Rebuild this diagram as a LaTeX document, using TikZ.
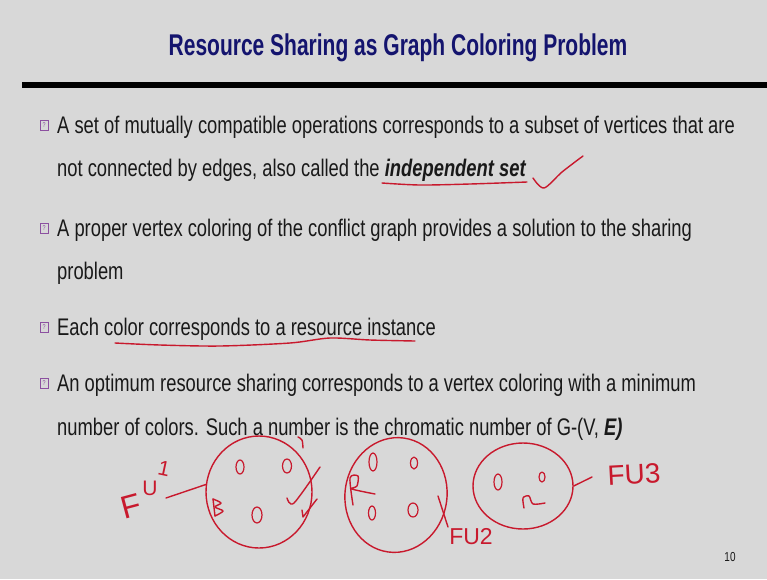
\documentclass[tikz,border=0pt]{standalone}
\usepackage{fontspec}
\setmainfont{Liberation Sans}[FakeStretch=0.765]
\newfontfamily\titlefont{Liberation Sans}[FakeStretch=0.70]
\newfontfamily\handfont{Liberation Sans}
\usetikzlibrary{shapes.geometric}
\definecolor{slidebg}{RGB}{216,216,216}
\definecolor{titleblue}{RGB}{20,20,110}
\definecolor{bodytext}{RGB}{25,25,25}
\definecolor{ink}{RGB}{200,25,45}
\definecolor{bulletpurple}{RGB}{140,80,160}

\begin{document}
\begin{tikzpicture}[x=1pt,y=-1pt,
  body/.style={anchor=base west, inner sep=0, font=\fontsize{24}{24}\selectfont, text=bodytext},
  bulletbox/.style={draw=bulletpurple, line width=0.7pt, minimum width=8pt, minimum height=10pt, inner sep=0, text=bulletpurple, font=\fontsize{7}{7}\selectfont},
  pen/.style={draw=ink, line width=1.4pt, line cap=round, line join=round},
  group/.style={pen, ellipse, inner sep=0},
  vertex/.style={pen, ellipse, inner sep=0, line width=1.2pt},
  hand/.style={text=ink, inner sep=0, font=\handfont\fontsize{20}{20}\selectfont}
]
% slide background
\fill[slidebg] (0,0) rectangle (767,579);
\useasboundingbox (0,0) rectangle (767,579);

% title and rule
\node[anchor=base, inner sep=0, text=titleblue, font=\titlefont\fontsize{30}{30}\selectfont\bfseries] (title) at (398,55) {Resource Sharing as Graph Coloring Problem};
\fill[black] (22,82) rectangle (767,88);

% bullets
\node[bulletbox] (b1) at (44,125) {?};
\node[bulletbox] (b2) at (44,228) {?};
\node[bulletbox] (b3) at (44,327) {?};
\node[bulletbox] (b4) at (44,383) {?};

\node[body] (l1) at (57,133) {A set of mutually compatible operations corresponds to a subset of vertices that are};
\node[body] (l2) at (57,176) {not connected by edges, also called the \textbf{\textit{independent set}}};
\node[body] (l3) at (57,236) {A proper vertex coloring of the conflict graph provides a solution to the sharing};
\node[body] (l4) at (57,279) {problem};
\node[body] (l5) at (57,335) {Each color corresponds to a resource instance};
\node[body] (l6) at (57,391) {An optimum resource sharing corresponds to a vertex coloring with a minimum};
\node[body] (l7) at (57,435) {number of colors. Such a number is the chromatic number of G-(V, \textbf{\textit{E)}}};

\node[anchor=base, inner sep=0, text=bodytext, font=\fontsize{13}{13}\selectfont] (page) at (730,561) {10};

% hand-written underlines and tick
\draw[pen] plot[smooth] coordinates {(382,183) (420,185) (470,184) (527,182)};
\draw[pen] plot[smooth] coordinates {(533,178) (544,188) (562,172) (583,156)};
\draw[pen] plot[smooth] coordinates {(115,343) (160,345) (220,346) (290,343) (330,338) (370,340) (415,341)};

% resource groups
\node[group, minimum width=106pt, minimum height=112pt] (c1) at (259,492) {};
\node[group, minimum width=102pt, minimum height=115pt, rotate=-8] (c2) at (396,495) {};
\node[group, minimum width=100pt, minimum height=86pt] (c3) at (523,486) {};

% operations inside group 1
\node[vertex, minimum width=8pt, minimum height=14pt] (v11) at (240,467) {};
\node[vertex, minimum width=9pt, minimum height=14pt] (v12) at (287,466) {};
\node[vertex, minimum width=10pt, minimum height=16pt] (v13) at (257,515) {};
\draw[pen] plot[smooth] coordinates {(213,499) (215,516)};
\draw[pen] plot[smooth] coordinates {(213,499) (221,503) (215,507) (223,511) (215,516)};
\draw[pen] plot[smooth] coordinates {(287,498) (294,503) (320,467)};
\draw[pen] (317,499) -- (303,517) -- (302,510);
\draw[pen] plot[smooth] coordinates {(298,437) (302,440) (303,448)};

% operations inside group 2
\node[vertex, minimum width=8pt, minimum height=18pt] (v21) at (373,462) {};
\node[vertex, minimum width=7pt, minimum height=12pt] (v22) at (414,463) {};
\node[vertex, minimum width=7pt, minimum height=14pt] (v23) at (372,513) {};
\node[vertex, minimum width=10pt, minimum height=14pt] (v24) at (413,510) {};
\draw[pen] plot[smooth] coordinates {(353,505) (350,478) (358,476) (357,486) (352,489) (375,494)};

% operations inside group 3
\node[vertex, minimum width=8pt, minimum height=16pt] (v31) at (498,482) {};
\node[vertex, minimum width=6pt, minimum height=10pt] (v32) at (542,477) {};
\draw[pen] plot[smooth] coordinates {(524,508) (523,498) (529,496) (533,504) (545,503)};

% functional unit labels (FU1 climbs diagonally, one letter at a time)
\node[hand, rotate=15, font=\handfont\fontsize{32}{32}\selectfont] (fu1a) at (131,506) {F};
\node[hand, font=\handfont\fontsize{21}{21}\selectfont] (fu1b) at (150,488) {U};
\node[hand, rotate=-12, font=\handfont\fontsize{21}{21}\selectfont] (fu1c) at (164,469) {1};
\node[hand, font=\handfont\fontsize{23}{23}\selectfont] (fu2) at (471,537) {FU2};
\node[hand, rotate=3, font=\handfont\fontsize{28}{28}\selectfont] (fu3) at (634,474) {FU3};

\coordinate (fu1tip) at (166,498);
\coordinate (fu2top) at (438,496);
\coordinate (fu2tip) at (448,527);
\coordinate (fu3tip) at (592,477);
\draw[pen] (fu1tip) -- (c1.172);
\draw[pen] (fu2top) -- (fu2tip);
\draw[pen] (c3.east) -- (fu3tip);
\end{tikzpicture}
\end{document}
